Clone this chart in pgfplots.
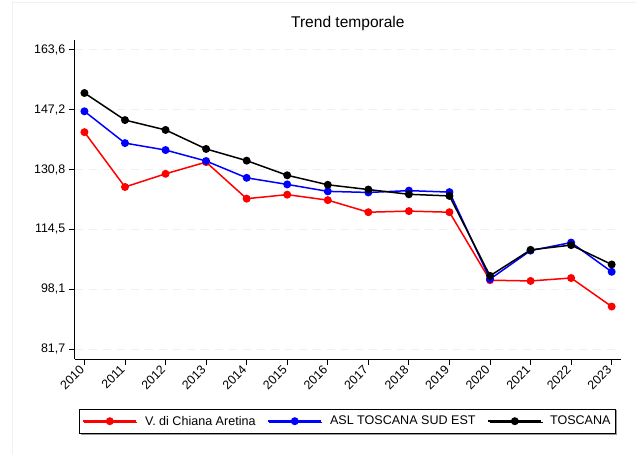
\documentclass[border=0pt]{standalone}
\usepackage{fontspec}
\setmainfont{Liberation Sans}
\usepackage{pgfplots}
\pgfplotsset{compat=1.18}
\usetikzlibrary{shadows}

\begin{document}
\begin{tikzpicture}
\useasboundingbox (-74.7bp,-95bp) rectangle (561.3bp,359bp);
% faint outer frame
\draw[gray!12, line width=1bp] (-61.7bp,-95bp) -- (-61.7bp,356bp) -- (561.3bp,356bp);
\begin{axis}[
  at={(0,0)}, anchor=south west,
  scale only axis,
  width=546.3bp, height=319bp,
  xmin=2009.76, xmax=2023.23,
  ymin=79.05, ymax=166.3,
  axis lines*=left,
  axis line style={black, line width=0.9bp},
  tick align=outside,
  major tick length=6bp,
  tick style={black, line width=0.9bp},
  xtick={2010,...,2023},
  xticklabel={\fontsize{12.4bp}{14bp}\selectfont\pgfmathprintnumber[assume math mode=true,1000 sep={},fixed,precision=0]{\tick}},
  ytick={81.7,98.1,114.5,130.8,147.2,163.6},
  yticklabel={\fontsize{12.4bp}{14bp}\selectfont\pgfmathprintnumber[assume math mode=true,use comma,fixed,fixed zerofill,precision=1]{\tick}},
  every tick label/.append style={font=\fontsize{12.4bp}{14bp}\selectfont},
  xticklabel style={rotate=45, anchor=east},
  ymajorgrids,
  major grid style={gray!12, line width=0.8bp, dash pattern=on 8bp off 6bp},
  title={Trend temporale},
  title style={at={(0.5,1)}, anchor=base, yshift=6.7bp, font=\fontsize{15.6}{18}\selectfont},
  legend columns=3,
  legend style={
    at={(0.4994,-0.195)}, anchor=center,
    draw=black, line width=0.8bp, fill=white,
    drop shadow={shadow xshift=1.2bp, shadow yshift=-1.2bp, fill=gray!80, opacity=1},
    font=\fontsize{12.6}{15}\selectfont,
    inner xsep=3bp, inner ysep=5bp,
    /tikz/every odd column/.append style={column sep=6bp},
    /tikz/every even column/.append style={column sep=10bp},
  },
  legend cell align=left,
  legend image code/.code={\draw[mark repeat=2,mark phase=2,#1] plot coordinates {(0bp,0bp) (26.5bp,0bp) (53bp,0bp)};},
  every axis plot/.append style={line width=1.5bp, mark=*, mark size=3.2bp, mark options={solid}},
]
\addplot[color=red, mark options={fill=red}] coordinates {
  (2010,141.1) (2011,126.1) (2012,129.7) (2013,132.9) (2014,122.9)
  (2015,124.0) (2016,122.5) (2017,119.2) (2018,119.5) (2019,119.2)
  (2020,100.6) (2021,100.4) (2022,101.2) (2023,93.4)
};
\addlegendentry{V. di Chiana Aretina}
\addplot[color=blue, mark options={fill=blue}] coordinates {
  (2010,146.8) (2011,138.1) (2012,136.2) (2013,133.2) (2014,128.6)
  (2015,126.8) (2016,124.9) (2017,124.6) (2018,125.1) (2019,124.7)
  (2020,100.9) (2021,108.7) (2022,110.9) (2023,102.9)
};
\addlegendentry{ASL TOSCANA SUD EST}
\addplot[color=black, mark options={fill=black}] coordinates {
  (2010,151.8) (2011,144.4) (2012,141.7) (2013,136.5) (2014,133.3)
  (2015,129.3) (2016,126.7) (2017,125.4) (2018,124.1) (2019,123.65)
  (2020,101.8) (2021,108.9) (2022,110.2) (2023,104.9)
};
\addlegendentry{TOSCANA}
\end{axis}
\end{tikzpicture}
\end{document}
